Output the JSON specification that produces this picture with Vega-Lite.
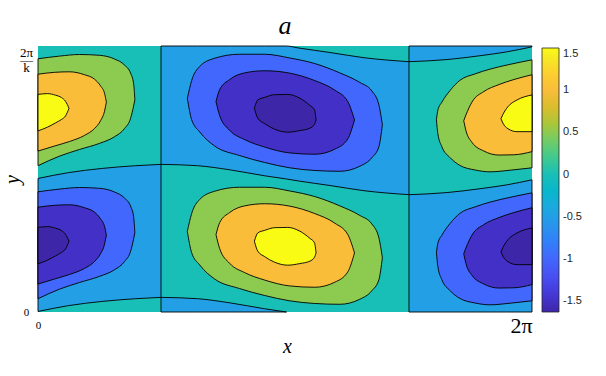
{
  "$schema": "https://vega.github.io/schema/vega-lite/v6.json",
  "width": 494,
  "height": 266,
  "autosize": {"type": "none"},
  "padding": {"left": 38, "top": 46, "right": 74, "bottom": 64},
  "background": "white",
  "title": {"text": "a", "font": "Liberation Serif", "fontStyle": "italic", "fontWeight": "normal", "fontSize": 26, "color": "#000", "anchor": "middle", "baseline": "alphabetic", "offset": -14, "frame": "group"},
  "datasets": {
    "base": [
      {"s": "bg", "lv": 0, "x": 0, "y": 100, "y2": 0},
      {"s": "bg", "lv": 0, "x": 100, "y": 100, "y2": 0}
    ],
    "bands": [
      {"s": "a", "lv": -0.5, "x": 0, "y": 50.2, "y2": 0.2},
      {"s": "a", "lv": -0.5, "x": 6.2, "y": 52.4, "y2": 2.4},
      {"s": "a", "lv": -0.5, "x": 13.1, "y": 54.0, "y2": 4.0},
      {"s": "a", "lv": -0.5, "x": 19.8, "y": 55.0, "y2": 5.0},
      {"s": "a", "lv": -0.5, "x": 24.9, "y": 55.5, "y2": 5.5},
      {"s": "b1", "lv": -0.5, "x": 24.9, "y": 100, "y2": 55.5},
      {"s": "b1", "lv": -0.5, "x": 32.3, "y": 100, "y2": 55.0},
      {"s": "b1", "lv": -0.5, "x": 39.0, "y": 100, "y2": 53.4},
      {"s": "b1", "lv": -0.5, "x": 45.9, "y": 100, "y2": 51.2},
      {"s": "b1", "lv": -0.5, "x": 50.3, "y": 100, "y2": 50.0},
      {"s": "b1", "lv": -0.5, "x": 52.6, "y": 99.3, "y2": 49.3},
      {"s": "b1", "lv": -0.5, "x": 59.3, "y": 97.5, "y2": 47.5},
      {"s": "b1", "lv": -0.5, "x": 66.0, "y": 95.6, "y2": 45.6},
      {"s": "b1", "lv": -0.5, "x": 75.1, "y": 94.1, "y2": 44.1},
      {"s": "b2", "lv": -0.5, "x": 24.9, "y": 5.5, "y2": 0},
      {"s": "b2", "lv": -0.5, "x": 32.3, "y": 5.0, "y2": 0},
      {"s": "b2", "lv": -0.5, "x": 39.0, "y": 3.4, "y2": 0},
      {"s": "b2", "lv": -0.5, "x": 45.9, "y": 1.2, "y2": 0},
      {"s": "b2", "lv": -0.5, "x": 50.3, "y": 0, "y2": 0},
      {"s": "c1", "lv": -0.5, "x": 75.1, "y": 100, "y2": 94.1},
      {"s": "c1", "lv": -0.5, "x": 82.8, "y": 100, "y2": 94.9},
      {"s": "c1", "lv": -0.5, "x": 89.7, "y": 100, "y2": 96.4},
      {"s": "c1", "lv": -0.5, "x": 94.9, "y": 100, "y2": 97.8},
      {"s": "c1", "lv": -0.5, "x": 100, "y": 100, "y2": 99.7},
      {"s": "c2", "lv": -0.5, "x": 75.1, "y": 44.1, "y2": 0},
      {"s": "c2", "lv": -0.5, "x": 82.8, "y": 44.9, "y2": 0},
      {"s": "c2", "lv": -0.5, "x": 89.7, "y": 46.4, "y2": 0},
      {"s": "c2", "lv": -0.5, "x": 94.9, "y": 47.8, "y2": 0},
      {"s": "c2", "lv": -0.5, "x": 100, "y": 49.7, "y2": 0}
    ],
    "outer": [
      {"s": "ULo", "lv": 0.5, "x": 0, "y": 95.2, "y2": 55.0},
      {"s": "ULo", "lv": 0.5, "x": 4.36, "y": 96.2, "y2": 58.6},
      {"s": "ULo", "lv": 0.5, "x": 8.41, "y": 96.8, "y2": 61.1},
      {"s": "ULo", "lv": 0.5, "x": 12.46, "y": 96.5, "y2": 63.4},
      {"s": "ULo", "lv": 0.5, "x": 15.50, "y": 95.1, "y2": 65.9},
      {"s": "ULo", "lv": 0.5, "x": 17.53, "y": 92.8, "y2": 69.0},
      {"s": "ULo", "lv": 0.5, "x": 18.74, "y": 89.8, "y2": 72.8},
      {"s": "ULo", "lv": 0.5, "x": 19.35, "y": 85.9, "y2": 77.4},
      {"s": "ULo", "lv": 0.5, "x": 19.61, "y": 79.8, "y2": 79.8},
      {"s": "LLo", "lv": -1.0, "x": 0, "y": 45.2, "y2": 5.0},
      {"s": "LLo", "lv": -1.0, "x": 4.36, "y": 46.2, "y2": 8.6},
      {"s": "LLo", "lv": -1.0, "x": 8.41, "y": 46.8, "y2": 11.1},
      {"s": "LLo", "lv": -1.0, "x": 12.46, "y": 46.5, "y2": 13.4},
      {"s": "LLo", "lv": -1.0, "x": 15.50, "y": 45.1, "y2": 15.9},
      {"s": "LLo", "lv": -1.0, "x": 17.53, "y": 42.8, "y2": 19.0},
      {"s": "LLo", "lv": -1.0, "x": 18.74, "y": 39.8, "y2": 22.8},
      {"s": "LLo", "lv": -1.0, "x": 19.35, "y": 35.9, "y2": 27.4},
      {"s": "LLo", "lv": -1.0, "x": 19.61, "y": 29.8, "y2": 29.8},
      {"s": "UMo", "lv": -1.0, "x": 30.23, "y": 80.3, "y2": 80.3},
      {"s": "UMo", "lv": -1.0, "x": 31.10, "y": 87.0, "y2": 72.3},
      {"s": "UMo", "lv": -1.0, "x": 32.73, "y": 92.3, "y2": 67.7},
      {"s": "UMo", "lv": -1.0, "x": 35.76, "y": 95.4, "y2": 62.4},
      {"s": "UMo", "lv": -1.0, "x": 40.83, "y": 96.9, "y2": 58.8},
      {"s": "UMo", "lv": -1.0, "x": 45.90, "y": 96.9, "y2": 56.2},
      {"s": "UMo", "lv": -1.0, "x": 50.96, "y": 95.5, "y2": 54.2},
      {"s": "UMo", "lv": -1.0, "x": 56.03, "y": 93.4, "y2": 53.2},
      {"s": "UMo", "lv": -1.0, "x": 61.09, "y": 89.9, "y2": 52.9},
      {"s": "UMo", "lv": -1.0, "x": 65.15, "y": 86.3, "y2": 54.8},
      {"s": "UMo", "lv": -1.0, "x": 67.58, "y": 83.1, "y2": 58.0},
      {"s": "UMo", "lv": -1.0, "x": 69.00, "y": 77.9, "y2": 62.1},
      {"s": "UMo", "lv": -1.0, "x": 69.71, "y": 70.4, "y2": 70.4},
      {"s": "LMo", "lv": 0.5, "x": 30.23, "y": 30.3, "y2": 30.3},
      {"s": "LMo", "lv": 0.5, "x": 31.10, "y": 37.0, "y2": 22.3},
      {"s": "LMo", "lv": 0.5, "x": 32.73, "y": 42.3, "y2": 17.7},
      {"s": "LMo", "lv": 0.5, "x": 35.76, "y": 45.4, "y2": 12.4},
      {"s": "LMo", "lv": 0.5, "x": 40.83, "y": 46.9, "y2": 8.8},
      {"s": "LMo", "lv": 0.5, "x": 45.90, "y": 46.9, "y2": 6.2},
      {"s": "LMo", "lv": 0.5, "x": 50.96, "y": 45.5, "y2": 4.2},
      {"s": "LMo", "lv": 0.5, "x": 56.03, "y": 43.4, "y2": 3.2},
      {"s": "LMo", "lv": 0.5, "x": 61.09, "y": 39.9, "y2": 2.9},
      {"s": "LMo", "lv": 0.5, "x": 65.15, "y": 36.3, "y2": 4.8},
      {"s": "LMo", "lv": 0.5, "x": 67.58, "y": 33.1, "y2": 8.0},
      {"s": "LMo", "lv": 0.5, "x": 69.00, "y": 27.9, "y2": 12.1},
      {"s": "LMo", "lv": 0.5, "x": 69.71, "y": 20.4, "y2": 20.4},
      {"s": "URo", "lv": 0.5, "x": 80.65, "y": 72.3, "y2": 72.3},
      {"s": "URo", "lv": 0.5, "x": 80.95, "y": 75.9, "y2": 67.0},
      {"s": "URo", "lv": 0.5, "x": 81.76, "y": 78.9, "y2": 62.1},
      {"s": "URo", "lv": 0.5, "x": 83.38, "y": 83.2, "y2": 58.1},
      {"s": "URo", "lv": 0.5, "x": 85.41, "y": 87.1, "y2": 55.1},
      {"s": "URo", "lv": 0.5, "x": 88.45, "y": 89.5, "y2": 53.4},
      {"s": "URo", "lv": 0.5, "x": 91.49, "y": 91.3, "y2": 52.7},
      {"s": "URo", "lv": 0.5, "x": 95.54, "y": 93.1, "y2": 53.3},
      {"s": "URo", "lv": 0.5, "x": 100, "y": 94.8, "y2": 54.2},
      {"s": "LRo", "lv": -1.0, "x": 80.65, "y": 22.3, "y2": 22.3},
      {"s": "LRo", "lv": -1.0, "x": 80.95, "y": 25.9, "y2": 17.0},
      {"s": "LRo", "lv": -1.0, "x": 81.76, "y": 28.9, "y2": 12.1},
      {"s": "LRo", "lv": -1.0, "x": 83.38, "y": 33.2, "y2": 8.1},
      {"s": "LRo", "lv": -1.0, "x": 85.41, "y": 37.1, "y2": 5.1},
      {"s": "LRo", "lv": -1.0, "x": 88.45, "y": 39.5, "y2": 3.4},
      {"s": "LRo", "lv": -1.0, "x": 91.49, "y": 41.3, "y2": 2.7},
      {"s": "LRo", "lv": -1.0, "x": 95.54, "y": 43.1, "y2": 3.3},
      {"s": "LRo", "lv": -1.0, "x": 100, "y": 44.8, "y2": 4.2}
    ],
    "mid": [
      {"s": "ULm", "lv": 1.0, "x": 0, "y": 89.4, "y2": 60.5},
      {"s": "ULm", "lv": 1.0, "x": 3.34, "y": 90.1, "y2": 62.4},
      {"s": "ULm", "lv": 1.0, "x": 6.38, "y": 90.3, "y2": 64.1},
      {"s": "ULm", "lv": 1.0, "x": 9.42, "y": 89.2, "y2": 66.4},
      {"s": "ULm", "lv": 1.0, "x": 11.45, "y": 87.5, "y2": 69.0},
      {"s": "ULm", "lv": 1.0, "x": 12.66, "y": 85.0, "y2": 71.9},
      {"s": "ULm", "lv": 1.0, "x": 13.47, "y": 82.2, "y2": 75.5},
      {"s": "ULm", "lv": 1.0, "x": 13.84, "y": 78.9, "y2": 78.9},
      {"s": "LLm", "lv": -1.5, "x": 0, "y": 39.4, "y2": 10.5},
      {"s": "LLm", "lv": -1.5, "x": 3.34, "y": 40.1, "y2": 12.4},
      {"s": "LLm", "lv": -1.5, "x": 6.38, "y": 40.3, "y2": 14.1},
      {"s": "LLm", "lv": -1.5, "x": 9.42, "y": 39.2, "y2": 16.4},
      {"s": "LLm", "lv": -1.5, "x": 11.45, "y": 37.5, "y2": 19.0},
      {"s": "LLm", "lv": -1.5, "x": 12.66, "y": 35.0, "y2": 21.9},
      {"s": "LLm", "lv": -1.5, "x": 13.47, "y": 32.2, "y2": 25.5},
      {"s": "LLm", "lv": -1.5, "x": 13.84, "y": 28.9, "y2": 28.9},
      {"s": "UMm", "lv": -1.5, "x": 36.03, "y": 79.1, "y2": 79.1},
      {"s": "UMm", "lv": -1.5, "x": 36.78, "y": 83.6, "y2": 73.8},
      {"s": "UMm", "lv": -1.5, "x": 38.80, "y": 87.4, "y2": 68.3},
      {"s": "UMm", "lv": -1.5, "x": 41.84, "y": 89.9, "y2": 64.8},
      {"s": "UMm", "lv": -1.5, "x": 45.90, "y": 90.7, "y2": 62.0},
      {"s": "UMm", "lv": -1.5, "x": 50.96, "y": 89.8, "y2": 59.8},
      {"s": "UMm", "lv": -1.5, "x": 56.03, "y": 87.0, "y2": 59.3},
      {"s": "UMm", "lv": -1.5, "x": 60.08, "y": 83.4, "y2": 61.2},
      {"s": "UMm", "lv": -1.5, "x": 62.72, "y": 79.1, "y2": 65.1},
      {"s": "UMm", "lv": -1.5, "x": 64.07, "y": 72.2, "y2": 72.2},
      {"s": "LMm", "lv": 1.0, "x": 36.03, "y": 29.1, "y2": 29.1},
      {"s": "LMm", "lv": 1.0, "x": 36.78, "y": 33.6, "y2": 23.8},
      {"s": "LMm", "lv": 1.0, "x": 38.80, "y": 37.4, "y2": 18.3},
      {"s": "LMm", "lv": 1.0, "x": 41.84, "y": 39.9, "y2": 14.8},
      {"s": "LMm", "lv": 1.0, "x": 45.90, "y": 40.7, "y2": 12.0},
      {"s": "LMm", "lv": 1.0, "x": 50.96, "y": 39.8, "y2": 9.8},
      {"s": "LMm", "lv": 1.0, "x": 56.03, "y": 37.0, "y2": 9.3},
      {"s": "LMm", "lv": 1.0, "x": 60.08, "y": 33.4, "y2": 11.2},
      {"s": "LMm", "lv": 1.0, "x": 62.72, "y": 29.1, "y2": 15.1},
      {"s": "LMm", "lv": 1.0, "x": 64.07, "y": 22.2, "y2": 22.2},
      {"s": "URm", "lv": 1.0, "x": 86.18, "y": 71.9, "y2": 71.9},
      {"s": "URm", "lv": 1.0, "x": 86.63, "y": 74.1, "y2": 68.2},
      {"s": "URm", "lv": 1.0, "x": 87.84, "y": 78.9, "y2": 63.8},
      {"s": "URm", "lv": 1.0, "x": 90.27, "y": 82.9, "y2": 60.5},
      {"s": "URm", "lv": 1.0, "x": 93.31, "y": 85.5, "y2": 59.0},
      {"s": "URm", "lv": 1.0, "x": 96.35, "y": 87.4, "y2": 59.1},
      {"s": "URm", "lv": 1.0, "x": 100, "y": 89.2, "y2": 60.3},
      {"s": "LRm", "lv": -1.5, "x": 86.18, "y": 21.9, "y2": 21.9},
      {"s": "LRm", "lv": -1.5, "x": 86.63, "y": 24.1, "y2": 18.2},
      {"s": "LRm", "lv": -1.5, "x": 87.84, "y": 28.9, "y2": 13.8},
      {"s": "LRm", "lv": -1.5, "x": 90.27, "y": 32.9, "y2": 10.5},
      {"s": "LRm", "lv": -1.5, "x": 93.31, "y": 35.5, "y2": 9.0},
      {"s": "LRm", "lv": -1.5, "x": 96.35, "y": 37.4, "y2": 9.1},
      {"s": "LRm", "lv": -1.5, "x": 100, "y": 39.2, "y2": 10.3}
    ],
    "inner": [
      {"s": "ULi", "lv": 1.5, "x": 0, "y": 81.8, "y2": 68.1},
      {"s": "ULi", "lv": 1.5, "x": 1.93, "y": 82.1, "y2": 69.5},
      {"s": "ULi", "lv": 1.5, "x": 3.55, "y": 81.5, "y2": 71.1},
      {"s": "ULi", "lv": 1.5, "x": 4.76, "y": 80.6, "y2": 72.4},
      {"s": "ULi", "lv": 1.5, "x": 5.57, "y": 79.2, "y2": 73.7},
      {"s": "ULi", "lv": 1.5, "x": 6.28, "y": 76.6, "y2": 76.6},
      {"s": "LLi", "lv": -1.63, "x": 0, "y": 31.8, "y2": 18.1},
      {"s": "LLi", "lv": -1.63, "x": 1.93, "y": 32.1, "y2": 19.5},
      {"s": "LLi", "lv": -1.63, "x": 3.55, "y": 31.5, "y2": 21.1},
      {"s": "LLi", "lv": -1.63, "x": 4.76, "y": 30.6, "y2": 22.4},
      {"s": "LLi", "lv": -1.63, "x": 5.57, "y": 29.2, "y2": 23.7},
      {"s": "LLi", "lv": -1.63, "x": 6.28, "y": 26.6, "y2": 26.6},
      {"s": "UMi", "lv": -1.63, "x": 43.81, "y": 76.6, "y2": 76.6},
      {"s": "UMi", "lv": -1.63, "x": 44.48, "y": 79.7, "y2": 72.9},
      {"s": "UMi", "lv": -1.63, "x": 45.90, "y": 80.7, "y2": 70.8},
      {"s": "UMi", "lv": -1.63, "x": 47.92, "y": 81.7, "y2": 68.7},
      {"s": "UMi", "lv": -1.63, "x": 50.56, "y": 81.8, "y2": 67.6},
      {"s": "UMi", "lv": -1.63, "x": 52.99, "y": 80.4, "y2": 68.2},
      {"s": "UMi", "lv": -1.63, "x": 55.02, "y": 77.7, "y2": 69.1},
      {"s": "UMi", "lv": -1.63, "x": 55.97, "y": 76.0, "y2": 70.6},
      {"s": "UMi", "lv": -1.63, "x": 56.29, "y": 72.2, "y2": 72.2},
      {"s": "LMi", "lv": 1.5, "x": 43.81, "y": 26.6, "y2": 26.6},
      {"s": "LMi", "lv": 1.5, "x": 44.48, "y": 29.7, "y2": 22.9},
      {"s": "LMi", "lv": 1.5, "x": 45.90, "y": 30.7, "y2": 20.8},
      {"s": "LMi", "lv": 1.5, "x": 47.92, "y": 31.7, "y2": 18.7},
      {"s": "LMi", "lv": 1.5, "x": 50.56, "y": 31.8, "y2": 17.6},
      {"s": "LMi", "lv": 1.5, "x": 52.99, "y": 30.4, "y2": 18.2},
      {"s": "LMi", "lv": 1.5, "x": 55.02, "y": 27.7, "y2": 19.1},
      {"s": "LMi", "lv": 1.5, "x": 55.97, "y": 26.0, "y2": 20.6},
      {"s": "LMi", "lv": 1.5, "x": 56.29, "y": 22.2, "y2": 22.2},
      {"s": "URi", "lv": 1.5, "x": 93.72, "y": 72.7, "y2": 72.7},
      {"s": "URi", "lv": 1.5, "x": 94.12, "y": 74.3, "y2": 71.0},
      {"s": "URi", "lv": 1.5, "x": 95.14, "y": 77.2, "y2": 68.9},
      {"s": "URi", "lv": 1.5, "x": 96.96, "y": 79.7, "y2": 67.8},
      {"s": "URi", "lv": 1.5, "x": 100, "y": 81.6, "y2": 67.8},
      {"s": "LRi", "lv": -1.63, "x": 93.72, "y": 22.7, "y2": 22.7},
      {"s": "LRi", "lv": -1.63, "x": 94.12, "y": 24.3, "y2": 21.0},
      {"s": "LRi", "lv": -1.63, "x": 95.14, "y": 27.2, "y2": 18.9},
      {"s": "LRi", "lv": -1.63, "x": 96.96, "y": 29.7, "y2": 17.8},
      {"s": "LRi", "lv": -1.63, "x": 100, "y": 31.6, "y2": 17.8}
    ]
  },
  "encoding": {
    "x": {
      "field": "x", "type": "quantitative",
      "scale": {"domain": [0, 100], "nice": false, "zero": false},
      "axis": {
        "values": [0, 100], "title": "x",
        "labelExpr": "datum.value == 0 ? '0' : '2π'",
        "labelFont": "Liberation Serif", "labelColor": "#000",
        "labelFontSize": {"condition": {"test": "datum.value == 100", "value": 22}, "value": 11},
        "labelAlign": {"condition": {"test": "datum.value == 100", "value": "right"}, "value": "center"},
        "labelBaseline": "middle", "labelPadding": 13,
        "ticks": false, "domain": false, "grid": false, "labelFlush": false, "labelOverlap": false,
        "titleFont": "Liberation Serif", "titleFontStyle": "italic", "titleFontWeight": "normal", "titleFontSize": 20, "titleColor": "#000",
        "titleX": 249, "titleY": 34, "titleAlign": "center", "titleBaseline": "middle"
      }
    },
    "y": {
      "field": "y", "type": "quantitative",
      "scale": {"domain": [0, 100], "nice": false, "zero": false},
      "axis": {
        "values": [0, 100], "title": "y",
        "labelExpr": "datum.value == 0 ? '0' : ['2π', '—', 'k']",
        "labelFont": "Liberation Serif", "labelColor": "#000",
        "labelFontSize": {"condition": {"test": "datum.value == 100", "value": 13}, "value": 11},
        "labelAlign": "center",
        "labelBaseline": {"condition": {"test": "datum.value == 100", "value": "top"}, "value": "middle"},
        "labelPadding": 12, "labelLineHeight": 7.5,
        "ticks": false, "domain": false, "grid": false, "labelFlush": false, "labelOverlap": false,
        "titleFont": "Liberation Serif", "titleFontStyle": "italic", "titleFontWeight": "normal", "titleFontSize": 20, "titleColor": "#000",
        "titleX": -26, "titleY": 133, "titleAngle": 270, "titleAlign": "center", "titleBaseline": "middle"
      }
    },
    "y2": {"field": "y2"},
    "fill": {
      "field": "lv", "type": "quantitative",
      "scale": {
        "type": "linear", "domain": [-1.63, 1.5], "nice": false, "zero": false, "interpolate": "rgb",
        "range": ["#3E26A8", "#4332CB", "#4741E5", "#4852F4", "#4563FD", "#3875FE", "#2E87F7", "#2796EB", "#20A5E3", "#12B1D6", "#02BAC3", "#19BFB6", "#37C897", "#57CC7A", "#81CC59", "#ABC739", "#D1BF27", "#F0BA36", "#FEBE3C", "#FCCF30", "#F5E327", "#F9FB15"]
      },
      "legend": {
        "title": null, "orient": "none", "legendX": 504, "legendY": 2, "direction": "vertical",
        "gradientLength": 264, "gradientThickness": 17,
        "values": [-1.5, -1, -0.5, 0, 0.5, 1, 1.5],
        "labelFont": "Liberation Sans", "labelFontSize": 11, "labelColor": "#262626", "labelOffset": 4,
        "labelExpr": "replace(format(datum.value, '~g'), '−', '-')",
        "gradientStrokeColor": "#262626", "gradientStrokeWidth": 0.8, "padding": 0,
        "labelOverlap": false, "labelBaseline": "middle"
      }
    },
    "detail": {"field": "s"}
  },
  "layer": [
    {"data": {"name": "base"}, "mark": {"type": "area", "interpolate": "linear"}},
    {"data": {"name": "bands"}, "mark": {"type": "area", "interpolate": "monotone", "stroke": "#000", "strokeWidth": 0.9, "strokeJoin": "round"}},
    {"data": {"name": "outer"}, "mark": {"type": "area", "interpolate": "monotone", "stroke": "#000", "strokeWidth": 0.9, "strokeJoin": "round"}},
    {"data": {"name": "mid"}, "mark": {"type": "area", "interpolate": "monotone", "stroke": "#000", "strokeWidth": 0.9, "strokeJoin": "round"}},
    {"data": {"name": "inner"}, "mark": {"type": "area", "interpolate": "monotone", "stroke": "#000", "strokeWidth": 0.9, "strokeJoin": "round"}},
    {
      "data": {"values": [{}]},
      "mark": {"type": "rect", "strokeWidth": 1},
      "encoding": {
        "x": {"datum": 0}, "x2": {"datum": 100},
        "y": {"datum": 0}, "y2": {"datum": 100},
        "fill": {"value": "transparent"}, "stroke": {"value": "#262626"}
      }
    }
  ],
  "config": {"view": {"stroke": null}}
}
